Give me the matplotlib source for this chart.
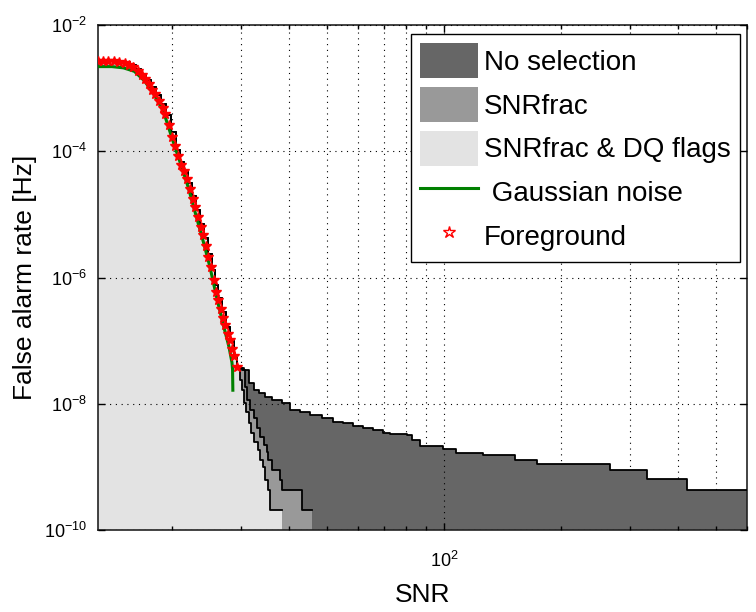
import matplotlib
matplotlib.use("Agg")
import matplotlib.pyplot as plt
import matplotlib.ticker as mticker
import numpy as np

plt.rcParams['font.family'] = ['Liberation Sans', 'DejaVu Sans']
plt.rcParams['mathtext.fontset'] = 'custom'
plt.rcParams['mathtext.rm'] = 'Liberation Sans'

# ---- data ----
# common high-rate part shared by all three background curves
snr_top = [12.88, 13.99, 14.85, 15.57, 16.13, 16.61, 17.11, 17.63, 18.16, 18.71,
           19.27, 19.85, 20.44, 20.94, 21.44, 21.96, 22.48, 23.01, 23.57, 24.13,
           24.71, 25.30, 25.76, 26.22, 26.85, 27.49, 28.14, 28.82, 29.34]
far_top = [2.69e-3, 2.69e-3, 2.59e-3, 2.32e-3, 2.01e-3, 1.67e-3, 1.34e-3, 1.04e-3, 7.77e-4, 5.60e-4,
           3.75e-4, 2.01e-4, 1.04e-4, 6.8e-5, 4.8e-5, 3.13e-5, 1.95e-5, 1.17e-5, 7.02e-6, 4.21e-6,
           2.35e-6, 1.31e-6, 7.58e-7, 4.72e-7, 2.83e-7, 1.64e-7, 9.82e-8, 5.68e-8, 3.66e-8]

# tails
snr_nosel = [30.58, 31.50, 32.45, 33.42, 34.63, 36.10, 38.31, 40.17, 42.62, 45.22,
             48.55, 51.82, 54.98, 58.33, 61.88, 65.66, 69.67, 72.61, 80.32, 82.75,
             86.77, 99.41, 107.4, 126.0, 152.3, 173.5, 267.4, 333.0, 421.9, 640.0]
far_nosel = [3.41e-8, 2.12e-8, 1.64e-8, 1.47e-8, 1.27e-8, 1.14e-8, 1.02e-8, 7.92e-9, 7.36e-9, 6.60e-9,
             5.91e-9, 5.11e-9, 4.93e-9, 4.42e-9, 4.10e-9, 3.82e-9, 3.42e-9, 3.30e-9, 3.18e-9, 2.65e-9,
             2.13e-9, 1.91e-9, 1.65e-9, 1.53e-9, 1.28e-9, 1.10e-9, 8.86e-10, 6.38e-10, 4.27e-10, 4.27e-10]

snr_frac = [30.22, 30.76, 31.13, 31.69, 32.45, 33.04, 33.62, 34.43, 35.04, 35.25,
            36.10, 37.85, 38.31, 43.13, 45.76]
far_frac = [3.41e-8, 1.83e-8, 1.14e-8, 7.92e-9, 5.91e-9, 4.10e-9, 2.96e-9, 2.2e-9, 1.7e-9, 1.28e-9,
            8.86e-10, 6.15e-10, 4.27e-10, 2.06e-10, 2.06e-10]

snr_dq = [29.87, 30.22, 30.58, 30.95, 31.50, 31.88, 32.45, 33.23, 33.62, 34.22,
          34.63, 35.25, 35.67, 38.31]
far_dq = [2.37e-8, 1.64e-8, 1.02e-8, 7.36e-9, 4.93e-9, 3.42e-9, 2.46e-9, 1.84e-9, 1.28e-9, 9.89e-10,
          6.15e-10, 4.27e-10, 2.06e-10, 2.06e-10]

# Gaussian noise expectation
gauss_snr = [12.88, 14.0, 15.0, 16.0, 17.0, 18.0, 19.0, 20.0, 21.0, 22.0,
             23.0, 24.0, 25.0, 26.0, 27.0, 28.0, 28.5, 28.6, 28.65]
gauss_far = [2.2e-3, 2.2e-3, 2.1e-3, 1.85e-3, 1.3e-3, 7.8e-4, 4.3e-4, 1.6e-4, 6.5e-5, 2.7e-5,
             1.0e-5, 3.9e-6, 1.5e-6, 5.0e-7, 1.9e-7, 8.0e-8, 4.5e-8, 3.5e-8, 1.64e-8]

# foreground events
fg_snr = [12.9, 13.3, 13.7, 14.2, 14.6, 15.1, 15.5, 15.9, 16.3, 16.7, 17.0, 17.4, 17.8, 18.1,
          18.5, 18.9, 19.2, 19.6, 20.0, 20.3, 20.7, 21.1, 21.5, 21.8, 22.2, 22.6, 22.9, 23.3,
          23.7, 24.0, 24.4, 24.8, 25.2, 25.6, 26.0, 26.3, 26.7, 27.1, 27.4, 27.8, 28.1, 28.5,
          28.8, 29.3]
fg_far = [2.69e-3, 2.69e-3, 2.69e-3, 2.67e-3, 2.62e-3, 2.49e-3, 2.35e-3, 2.13e-3, 1.88e-3, 1.61e-3,
          1.41e-3, 1.16e-3, 9.5e-4, 8.0e-4, 6.35e-4, 4.9e-4, 3.9e-4, 2.6e-4, 1.71e-4, 1.22e-4,
          8.3e-5, 6.1e-5, 4.8e-5, 3.6e-5, 2.5e-5, 1.73e-5, 1.30e-5, 8.97e-6, 6.24e-6, 4.73e-6,
          3.21e-6, 2.15e-6, 1.45e-6, 9.2e-7, 5.9e-7, 4.4e-7, 3.2e-7, 2.29e-7, 1.77e-7, 1.28e-7,
          1.01e-7, 7.3e-8, 5.75e-8, 3.8e-8]

labels = ["No selection", "SNRfrac", "SNRfrac & DQ flags", " Gaussian noise", "Foreground"]
fill_colors = ["#666666", "#999999", "#e3e3e3"]

floor = 1e-13

fig = plt.figure(figsize=(7.56, 6.12), dpi=100)
ax = fig.add_axes([0.1296, 0.134, 0.8585, 0.825])
ax.set_xscale('log')
ax.set_yscale('log')

handles = []
curves = [(snr_nosel, far_nosel), (snr_frac, far_frac), (snr_dq, far_dq)]
for (tx, ty), col, lab in zip(curves, fill_colors, labels[:3]):
    x = np.array(snr_top + tx)
    y = np.array(far_top + ty)
    h = ax.fill_between(x, y, floor, step='post', facecolor=col, edgecolor='none', lw=0,
                        zorder=1, label=lab)
    handles.append(h)
for tx, ty in curves:
    x = np.array(snr_top + tx)
    y = np.array(far_top + ty)
    ax.step(x, y, where='post', color='black', lw=1.3, zorder=3)

g, = ax.plot(gauss_snr, gauss_far, color='#008000', lw=2.2, zorder=4, label=labels[3])
f, = ax.plot(fg_snr, fg_far, linestyle='none', marker='*', markersize=7,
             markerfacecolor='red', markeredgecolor='red', zorder=5, label=labels[4])
handles += [g, f]

ax.set_xlim(12.9, 600)
ax.set_ylim(1e-10, 1e-2)

ax.xaxis.set_major_locator(mticker.LogLocator(base=10.0))
ax.xaxis.set_minor_locator(mticker.LogLocator(base=10.0, subs=np.arange(2, 10)))
ax.xaxis.set_minor_formatter(mticker.NullFormatter())
ax.yaxis.set_major_locator(mticker.LogLocator(base=100.0))
ax.yaxis.set_minor_locator(mticker.NullLocator())

def fmt(v, pos):
    e = int(round(np.log10(v)))
    return r'$\mathregular{10^{%d}}$' % e
ax.xaxis.set_major_formatter(mticker.FuncFormatter(fmt))
ax.yaxis.set_major_formatter(mticker.FuncFormatter(fmt))

ax.tick_params(which='both', direction='in', top=True, right=True, color='black', width=1.0)
ax.tick_params(which='major', length=5, labelsize=13)
ax.tick_params(which='minor', length=3)
ax.tick_params(axis='x', which='major', pad=15)
ax.tick_params(axis='y', which='major', pad=8)

# grid: major on top of fills, minor beneath
grid_style = dict(color='black', linestyle=(0, (1, 4.2)), linewidth=0.8)
ax.grid(True, which='major', **grid_style)
ax.set_axisbelow(False)
for xv in ax.xaxis.get_minorticklocs():
    if 12.9 < xv < 600:
        ax.axvline(xv, zorder=0.5, **grid_style)

for s in ax.spines.values():
    s.set_linewidth(1.2)
    s.set_color('#222222')

ax.set_xlabel('SNR', fontsize=19, labelpad=9)
ax.set_ylabel('False alarm rate [Hz]', fontsize=19)
ax.yaxis.set_label_coords(-0.094, 0.5)

leg = ax.legend(handles=handles, labels=labels, loc='upper right',
                bbox_to_anchor=(0.989, 0.982), fontsize=20, frameon=True, fancybox=False,
                framealpha=1, edgecolor='black', handlelength=2.09, handleheight=1.56,
                handletextpad=0.22, labelspacing=0.32, borderpad=0.32, borderaxespad=0.0)
leg.get_frame().set_linewidth(1.0)
leg.set_zorder(10)
for lh in leg.legend_handles[4:]:
    lh.set_markerfacecolor('none')
    lh.set_markersize(9)

fig.savefig('out.png', dpi=100)
